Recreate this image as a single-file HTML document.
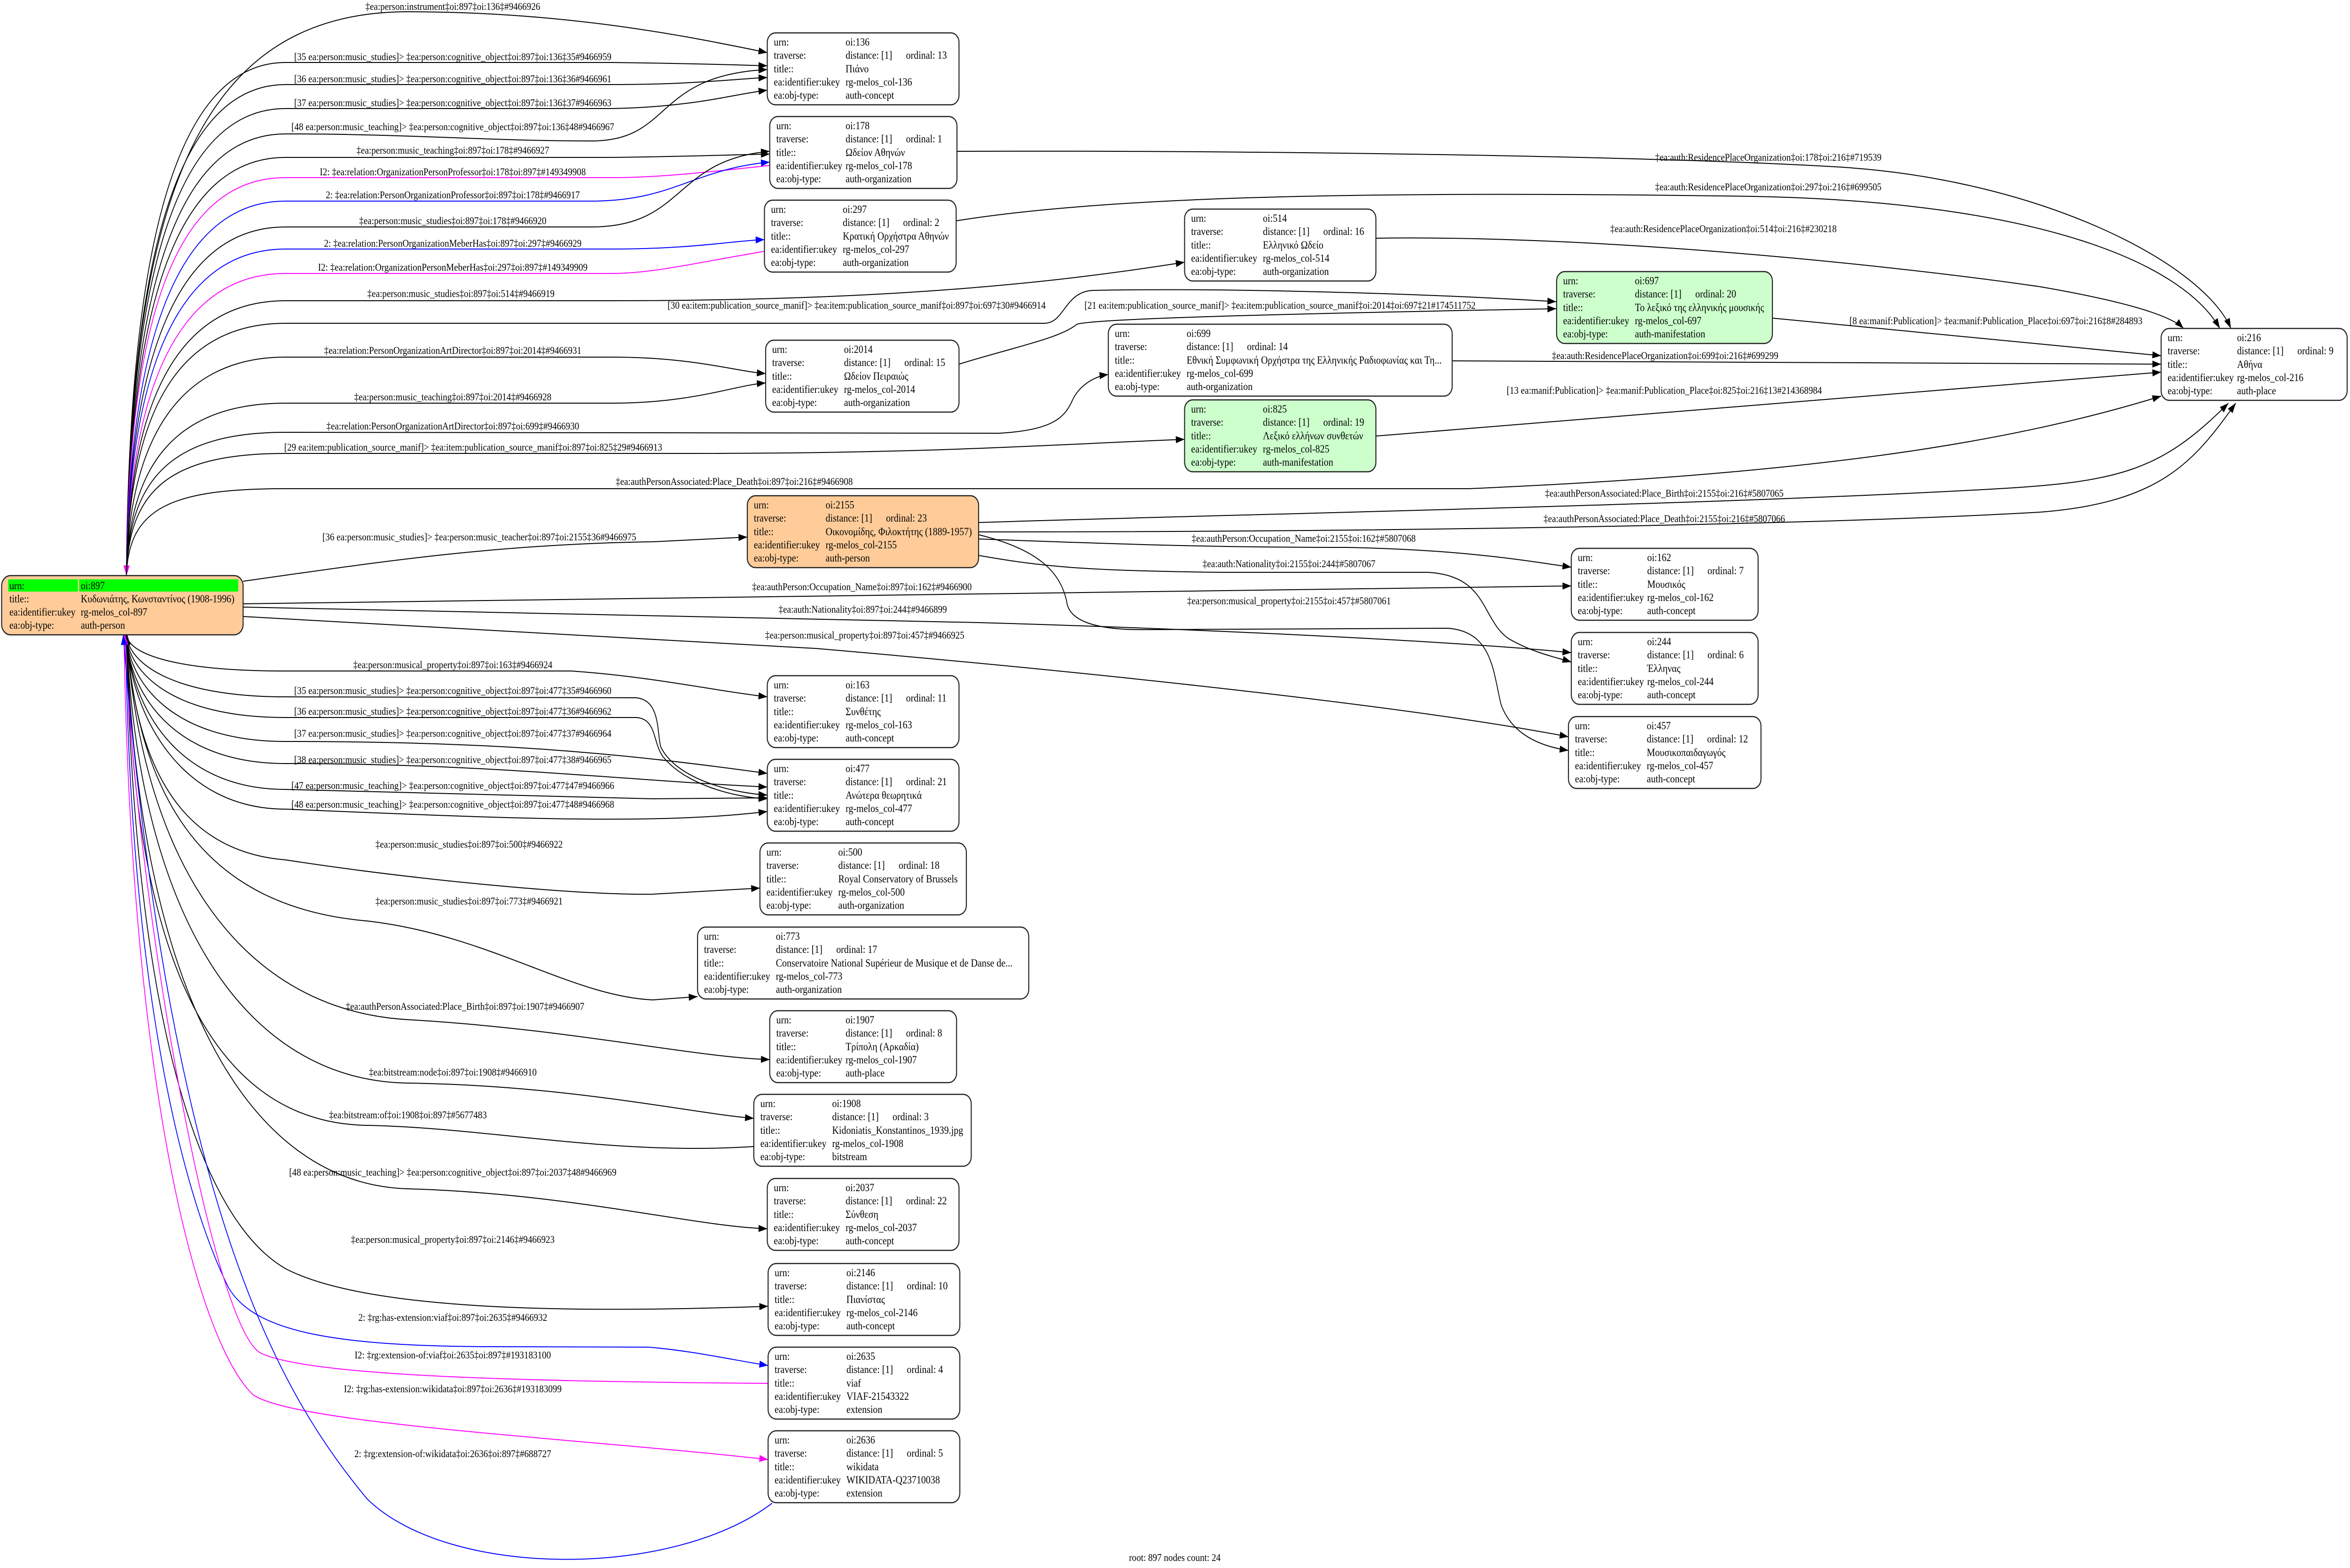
<!DOCTYPE html>
<html><head><meta charset="utf-8">
<style>
html,body{margin:0;padding:0;background:#fff;overflow:hidden;width:100vw;height:100vh;}
svg{display:block;width:100vw;height:100vh;}
text{font-family:"Liberation Serif","DejaVu Serif",serif;font-size:23px;fill:#000;}
.l{font-size:22px;text-anchor:middle;}
.e{fill:none;stroke:#000;stroke-width:2;}
.eb{fill:none;stroke:#0000ff;stroke-width:2;}
.em{fill:none;stroke:#ff00ff;stroke-width:2;}
.n{stroke:#222;stroke-width:2.5;}
</style></head><body>
<svg viewBox="0 0 5761 3337" preserveAspectRatio="none" xmlns="http://www.w3.org/2000/svg">
<defs>
<marker id="ak" viewBox="0 0 20 14" refX="20" refY="7" markerWidth="22" markerHeight="15" markerUnits="userSpaceOnUse" orient="auto"><path d="M0,0 L20,7 L0,14 z" fill="#000"/></marker>
<marker id="ab" viewBox="0 0 20 14" refX="20" refY="7" markerWidth="22" markerHeight="15" markerUnits="userSpaceOnUse" orient="auto"><path d="M0,0 L20,7 L0,14 z" fill="#00f"/></marker>
<marker id="am" viewBox="0 0 20 14" refX="20" refY="7" markerWidth="22" markerHeight="15" markerUnits="userSpaceOnUse" orient="auto"><path d="M0,0 L20,7 L0,14 z" fill="#f0f"/></marker>
</defs>
<rect width="5761" height="3337" fill="#fff"/>

<path class="e" marker-end="url(#ak)" d="M310,1225 C315,400 500,25 1000,25 C1400,25 1700,80 1881,112"/>
<text class="l" x="1110" y="21">‡ea:person:instrument‡oi:897‡oi:136‡#9466926</text>
<path class="e" marker-end="url(#ak)" d="M310,1225 C315,560 420,133 700,133 L1500,133 C1700,135 1800,138 1881,140"/>
<text class="l" x="1110" y="128">[35 ea:person:music_studies]&gt; ‡ea:person:cognitive_object‡oi:897‡oi:136‡35#9466959</text>
<path class="e" marker-end="url(#ak)" d="M310,1225 C315,590 420,180 700,180 L1500,180 C1700,180 1800,168 1881,165"/>
<text class="l" x="1110" y="175">[36 ea:person:music_studies]&gt; ‡ea:person:cognitive_object‡oi:897‡oi:136‡36#9466961</text>
<path class="e" marker-end="url(#ak)" d="M310,1225 C315,620 420,231 700,231 L1500,231 C1700,228 1800,200 1881,192"/>
<text class="l" x="1110" y="226">[37 ea:person:music_studies]&gt; ‡ea:person:cognitive_object‡oi:897‡oi:136‡37#9466963</text>
<path class="e" marker-end="url(#ak)" d="M310,1225 C315,650 420,285 700,285 C1000,285 1200,300 1450,300 C1650,300 1600,160 1881,148"/>
<text class="l" x="1110" y="277">[48 ea:person:music_teaching]&gt; ‡ea:person:cognitive_object‡oi:897‡oi:136‡48#9466967</text>
<path class="e" marker-end="url(#ak)" d="M310,1225 C315,680 420,335 700,335 L1500,335 C1700,333 1800,329 1887,328"/>
<text class="l" x="1110" y="327">‡ea:person:music_teaching‡oi:897‡oi:178‡#9466927</text>
<path class="em" marker-end="url(#am)" d="M1887,352 C1700,370 1600,378 1500,378 L700,378 C420,378 315,700 310,1225"/>
<text class="l" x="1110" y="373">I2: ‡ea:relation:OrganizationPersonProfessor‡oi:178‡oi:897‡#149349908</text>
<path class="eb" marker-end="url(#ab)" d="M310,1225 C315,760 420,428 700,428 L1450,428 C1650,428 1700,360 1887,345"/>
<text class="l" x="1110" y="422">2: ‡ea:relation:PersonOrganizationProfessor‡oi:897‡oi:178‡#9466917</text>
<path class="e" marker-end="url(#ak)" d="M310,1225 C315,790 420,483 700,483 L1450,483 C1680,483 1650,340 1887,322"/>
<text class="l" x="1110" y="477">‡ea:person:music_studies‡oi:897‡oi:178‡#9466920</text>
<path class="eb" marker-end="url(#ab)" d="M310,1225 C315,820 420,530 700,530 L1500,530 C1700,530 1800,512 1874,510"/>
<text class="l" x="1110" y="525">2: ‡ea:relation:PersonOrganizationMeberHas‡oi:897‡oi:297‡#9466929</text>
<path class="em" marker-end="url(#am)" d="M1874,535 C1700,560 1600,582 1500,582 L700,582 C420,582 315,860 310,1225"/>
<text class="l" x="1110" y="576">I2: ‡ea:relation:OrganizationPersonMeberHas‡oi:297‡oi:897‡#149349909</text>
<path class="e" marker-end="url(#ak)" d="M310,1225 C315,880 420,640 700,640 L1500,640 C2200,640 2600,600 2904,558"/>
<text class="l" x="1130" y="632">‡ea:person:music_studies‡oi:897‡oi:514‡#9466919</text>
<path class="e" marker-end="url(#ak)" d="M310,1225 C315,900 420,688 700,688 L2560,688 C2610,688 2610,620 2680,618 C3000,612 3500,625 3815,642"/>
<text class="l" x="2100" y="657">[30 ea:item:publication_source_manif]&gt; ‡ea:item:publication_source_manif‡oi:897‡oi:697‡30#9466914</text>
<path class="e" marker-end="url(#ak)" d="M2351,775 C2480,740 2600,720 2640,690 C2680,680 3000,670 3815,657"/>
<text class="l" x="3138" y="657">[21 ea:item:publication_source_manif]&gt; ‡ea:item:publication_source_manif‡oi:2014‡oi:697‡21#174511752</text>
<path class="e" marker-end="url(#ak)" d="M310,1225 C315,960 420,760 700,760 L1500,760 C1700,760 1800,790 1877,795"/>
<text class="l" x="1110" y="753">‡ea:relation:PersonOrganizationArtDirector‡oi:897‡oi:2014‡#9466931</text>
<path class="e" marker-end="url(#ak)" d="M310,1225 C315,1000 420,858 700,858 L1500,858 C1700,858 1800,820 1877,815"/>
<text class="l" x="1110" y="852">‡ea:person:music_teaching‡oi:897‡oi:2014‡#9466928</text>
<path class="e" marker-end="url(#ak)" d="M310,1225 C315,1020 420,920 700,920 L2450,922 C2580,915 2610,890 2630,850 C2650,815 2690,800 2717,797"/>
<text class="l" x="1110" y="914">‡ea:relation:PersonOrganizationArtDirector‡oi:897‡oi:699‡#9466930</text>
<path class="e" marker-end="url(#ak)" d="M310,1225 C315,1040 420,965 700,965 L1700,965 C2300,965 2600,945 2904,935"/>
<text class="l" x="1160" y="959">[29 ea:item:publication_source_manif]&gt; ‡ea:item:publication_source_manif‡oi:897‡oi:825‡29#9466913</text>
<path class="e" marker-end="url(#ak)" d="M310,1225 C315,1080 420,1040 700,1040 L3600,1040 C4400,1010 4900,950 5298,843"/>
<text class="l" x="1800" y="1032">‡ea:authPersonAssociated:Place_Death‡oi:897‡oi:216‡#9466908</text>

<path class="e" marker-end="url(#ak)" d="M596,1237 C900,1200 1200,1158 1600,1153 L1832,1143"/>
<text class="l" x="1175" y="1150">[36 ea:person:music_studies]&gt; ‡ea:person:music_teacher‡oi:897‡oi:2155‡36#9466975</text>
<path class="e" marker-end="url(#ak)" d="M596,1285 C1000,1275 1500,1270 2400,1264 C3000,1260 3500,1250 3852,1247"/>
<text class="l" x="2113" y="1256">‡ea:authPerson:Occupation_Name‡oi:897‡oi:162‡#9466900</text>
<path class="e" marker-end="url(#ak)" d="M596,1292 C1000,1300 1500,1306 2400,1325 C3000,1340 3600,1367 3852,1389"/>
<text class="l" x="2115" y="1304">‡ea:auth:Nationality‡oi:897‡oi:244‡#9466899</text>
<path class="e" marker-end="url(#ak)" d="M596,1312 C1000,1330 1500,1360 2000,1380 C2800,1440 3500,1510 3845,1568"/>
<text class="l" x="2120" y="1359">‡ea:person:musical_property‡oi:897‡oi:457‡#9466925</text>

<path class="e" marker-end="url(#ak)" d="M2399,1112 C3000,1095 4200,1075 4900,1040 C5200,1025 5300,1000 5463,858"/>
<text class="l" x="4080" y="1057">‡ea:authPersonAssociated:Place_Birth‡oi:2155‡oi:216‡#5807065</text>
<path class="e" marker-end="url(#ak)" d="M2399,1132 C3500,1132 4500,1115 5000,1090 C5300,1070 5380,980 5481,858"/>
<text class="l" x="4080" y="1111">‡ea:authPersonAssociated:Place_Death‡oi:2155‡oi:216‡#5807066</text>
<path class="e" marker-end="url(#ak)" d="M2399,1147 C2800,1160 3000,1165 3300,1165 C3600,1170 3750,1195 3852,1207"/>
<text class="l" x="3196" y="1153">‡ea:authPerson:Occupation_Name‡oi:2155‡oi:162‡#5807068</text>
<path class="e" marker-end="url(#ak)" d="M2399,1182 C2550,1205 2650,1215 3000,1218 L3500,1218 C3650,1225 3630,1320 3700,1360 C3760,1390 3820,1400 3852,1409"/>
<text class="l" x="3160" y="1207">‡ea:auth:Nationality‡oi:2155‡oi:244‡#5807067</text>
<path class="e" marker-end="url(#ak)" d="M2399,1138 C2550,1170 2600,1220 2615,1280 C2620,1320 2680,1340 2800,1340 L3550,1337 C3660,1345 3660,1430 3680,1500 C3710,1570 3790,1590 3845,1597"/>
<text class="l" x="3160" y="1286">‡ea:person:musical_property‡oi:2155‡oi:457‡#5807061</text>

<path class="e" marker-end="url(#ak)" d="M2346,322 C3000,320 4000,330 4500,355 C5000,380 5400,560 5469,699"/>
<text class="l" x="4335" y="342">‡ea:auth:ResidencePlaceOrganization‡oi:178‡oi:216‡#719539</text>
<path class="e" marker-end="url(#ak)" d="M2344,470 C2700,420 3300,405 4300,418 C5000,430 5350,560 5442,699"/>
<text class="l" x="4335" y="405">‡ea:auth:ResidencePlaceOrganization‡oi:297‡oi:216‡#699505</text>
<path class="e" marker-end="url(#ak)" d="M3373,507 C3900,500 4600,560 5000,610 C5200,640 5320,670 5353,699"/>
<text class="l" x="4225" y="494">‡ea:auth:ResidencePlaceOrganization‡oi:514‡oi:216‡#230218</text>
<path class="e" marker-end="url(#ak)" d="M4345,677 L5298,757"/>
<text class="l" x="4893" y="690">[8 ea:manif:Publication]&gt; ‡ea:manif:Publication_Place‡oi:697‡oi:216‡8#284893</text>
<path class="e" marker-end="url(#ak)" d="M3560,768 L5298,775"/>
<text class="l" x="4082" y="764">‡ea:auth:ResidencePlaceOrganization‡oi:699‡oi:216‡#699299</text>
<path class="e" marker-end="url(#ak)" d="M3373,928 L5298,792"/>
<text class="l" x="4080" y="838">[13 ea:manif:Publication]&gt; ‡ea:manif:Publication_Place‡oi:825‡oi:216‡13#214368984</text>

<path class="e" marker-end="url(#ak)" d="M310,1351 C315,1390 420,1428 700,1428 L1400,1428 C1600,1440 1750,1470 1881,1483"/>
<text class="l" x="1110" y="1422">‡ea:person:musical_property‡oi:897‡oi:163‡#9466924</text>
<path class="e" marker-end="url(#ak)" d="M310,1351 C315,1410 420,1483 700,1483 L1560,1485 C1620,1490 1610,1560 1620,1590 C1660,1660 1800,1688 1881,1692"/>
<text class="l" x="1110" y="1477">[35 ea:person:music_studies]&gt; ‡ea:person:cognitive_object‡oi:897‡oi:477‡35#9466960</text>
<path class="e" marker-end="url(#ak)" d="M310,1351 C315,1430 420,1527 700,1527 L1560,1527 C1610,1530 1600,1580 1625,1610 C1680,1670 1800,1697 1881,1700"/>
<text class="l" x="1110" y="1521">[36 ea:person:music_studies]&gt; ‡ea:person:cognitive_object‡oi:897‡oi:477‡36#9466962</text>
<path class="e" marker-end="url(#ak)" d="M310,1351 C315,1450 420,1578 700,1578 C1200,1578 1500,1600 1881,1646"/>
<text class="l" x="1110" y="1568">[37 ea:person:music_studies]&gt; ‡ea:person:cognitive_object‡oi:897‡oi:477‡37#9466964</text>
<path class="e" marker-end="url(#ak)" d="M310,1351 C315,1470 420,1625 700,1625 C1200,1625 1500,1659 1881,1675"/>
<text class="l" x="1110" y="1624">[38 ea:person:music_studies]&gt; ‡ea:person:cognitive_object‡oi:897‡oi:477‡38#9466965</text>
<path class="e" marker-end="url(#ak)" d="M310,1351 C320,1500 430,1680 700,1680 L1600,1700 L1881,1698"/>
<text class="l" x="1110" y="1679">[47 ea:person:music_teaching]&gt; ‡ea:person:cognitive_object‡oi:897‡oi:477‡47#9466966</text>
<path class="e" marker-end="url(#ak)" d="M310,1351 C320,1520 440,1722 700,1722 C1200,1740 1600,1757 1881,1727"/>
<text class="l" x="1110" y="1719">[48 ea:person:music_teaching]&gt; ‡ea:person:cognitive_object‡oi:897‡oi:477‡48#9466968</text>
<path class="e" marker-end="url(#ak)" d="M310,1351 C330,1600 420,1810 700,1830 C1000,1870 1400,1905 1600,1903 L1863,1890"/>
<text class="l" x="1150" y="1804">‡ea:person:music_studies‡oi:897‡oi:500‡#9466922</text>
<path class="e" marker-end="url(#ak)" d="M310,1351 C340,1700 500,1930 900,1960 C1200,1990 1400,2120 1600,2128 L1710,2121"/>
<text class="l" x="1150" y="1925">‡ea:person:music_studies‡oi:897‡oi:773‡#9466921</text>
<path class="e" marker-end="url(#ak)" d="M310,1351 C350,1850 600,2150 1000,2170 C1400,2190 1700,2250 1887,2255"/>
<text class="l" x="1140" y="2149">‡ea:authPersonAssociated:Place_Birth‡oi:897‡oi:1907‡#9466907</text>
<path class="e" marker-end="url(#ak)" d="M310,1351 C340,1950 600,2300 1000,2305 C1400,2310 1700,2370 1848,2380"/>
<text class="l" x="1110" y="2289">‡ea:bitstream:node‡oi:897‡oi:1908‡#9466910</text>
<path class="e" marker-end="url(#ak)" d="M1848,2440 C1500,2460 1200,2400 900,2395 C500,2390 320,2000 312,1351"/>
<text class="l" x="1000" y="2380">‡ea:bitstream:of‡oi:1908‡oi:897‡#5677483</text>
<path class="e" marker-end="url(#ak)" d="M310,1351 C340,2100 600,2520 1000,2530 C1400,2540 1700,2610 1881,2615"/>
<text class="l" x="1110" y="2502">[48 ea:person:music_teaching]&gt; ‡ea:person:cognitive_object‡oi:897‡oi:2037‡48#9466969</text>
<path class="e" marker-end="url(#ak)" d="M310,1351 C330,2200 500,2600 700,2700 C900,2790 1400,2795 1883,2780"/>
<text class="l" x="1110" y="2645">‡ea:person:musical_property‡oi:897‡oi:2146‡#9466923</text>
<path class="eb" marker-end="url(#ab)" d="M308,1351 C320,2200 480,2600 560,2740 C620,2830 800,2865 1200,2866 L1590,2867 C1700,2875 1800,2895 1883,2906"/>
<text class="l" x="1110" y="2811">2: ‡rg:has-extension:viaf‡oi:897‡oi:2635‡#9466932</text>
<path class="em" marker-end="url(#am)" d="M1883,2944 C1200,2940 750,2925 640,2880 C520,2830 330,1900 306,1351"/>
<text class="l" x="1110" y="2891">I2: ‡rg:extension-of:viaf‡oi:2635‡oi:897‡#193183100</text>
<path class="em" marker-end="url(#am)" d="M304,1351 C320,2300 480,2850 620,2968 C720,3030 1400,3060 1883,3106"/>
<text class="l" x="1110" y="2963">I2: ‡rg:has-extension:wikidata‡oi:897‡oi:2636‡#193183099</text>
<path class="eb" marker-end="url(#ab)" d="M1893,3199 C1650,3360 1100,3360 900,3190 C700,2980 420,2600 302,1351"/>
<text class="l" x="1110" y="3101">2: ‡rg:extension-of:wikidata‡oi:2636‡oi:897‡#688727</text>

<g transform="translate(4,1225)"><rect class="n" x="0" y="0" width="592" height="126" rx="22" fill="#ffcc99"/>
<rect x="16" y="8" width="171" height="26" fill="#00ff00"/><rect x="190" y="8" width="390" height="26" fill="#00ff00"/>
<text x="19" y="29">urn:</text><text x="194" y="29">oi:897</text>
<text x="19" y="57">title::</text><text x="194" y="57">Κυδωνιάτης, Κωνσταντίνος (1908-1996)</text>
<text x="19" y="85">ea:identifier:ukey</text><text x="194" y="85">rg-melos_col-897</text>
<text x="19" y="113">ea:obj-type:</text><text x="194" y="113">auth-person</text></g>

<g transform="translate(1881,70)"><rect class="n" width="470" height="153" rx="20" fill="#fff"/><text x="16" y="27">urn:</text><text x="192" y="27">oi:136</text><text x="16" y="55">traverse:</text><text x="192" y="55">distance: [1]</text><text x="340" y="55">ordinal: 13</text><text x="16" y="84">title::</text><text x="192" y="84">Πιάνο</text><text x="16" y="112">ea:identifier:ukey</text><text x="192" y="112">rg-melos_col-136</text><text x="16" y="140">ea:obj-type:</text><text x="192" y="140">auth-concept</text></g>

<g transform="translate(1887,248)"><rect class="n" width="459" height="153" rx="20" fill="#fff"/><text x="16" y="27">urn:</text><text x="186" y="27">oi:178</text><text x="16" y="55">traverse:</text><text x="186" y="55">distance: [1]</text><text x="334" y="55">ordinal: 1</text><text x="16" y="84">title::</text><text x="186" y="84">Ωδείον Αθηνών</text><text x="16" y="112">ea:identifier:ukey</text><text x="186" y="112">rg-melos_col-178</text><text x="16" y="140">ea:obj-type:</text><text x="186" y="140">auth-organization</text></g>

<g transform="translate(1874,426)"><rect class="n" width="470" height="153" rx="20" fill="#fff"/><text x="16" y="27">urn:</text><text x="192" y="27">oi:297</text><text x="16" y="55">traverse:</text><text x="192" y="55">distance: [1]</text><text x="340" y="55">ordinal: 2</text><text x="16" y="84">title::</text><text x="192" y="84">Κρατική Ορχήστρα Αθηνών</text><text x="16" y="112">ea:identifier:ukey</text><text x="192" y="112">rg-melos_col-297</text><text x="16" y="140">ea:obj-type:</text><text x="192" y="140">auth-organization</text></g>

<g transform="translate(2904,445)"><rect class="n" width="469" height="153" rx="20" fill="#fff"/><text x="16" y="27">urn:</text><text x="192" y="27">oi:514</text><text x="16" y="55">traverse:</text><text x="192" y="55">distance: [1]</text><text x="340" y="55">ordinal: 16</text><text x="16" y="84">title::</text><text x="192" y="84">Ελληνικό Ωδείο</text><text x="16" y="112">ea:identifier:ukey</text><text x="192" y="112">rg-melos_col-514</text><text x="16" y="140">ea:obj-type:</text><text x="192" y="140">auth-organization</text></g>

<g transform="translate(3816,578)"><rect class="n" width="529" height="153" rx="20" fill="#ccffcc"/><text x="16" y="27">urn:</text><text x="192" y="27">oi:697</text><text x="16" y="55">traverse:</text><text x="192" y="55">distance: [1]</text><text x="340" y="55">ordinal: 20</text><text x="16" y="84">title::</text><text x="192" y="84">Το λεξικό της ελληνικής μουσικής</text><text x="16" y="112">ea:identifier:ukey</text><text x="192" y="112">rg-melos_col-697</text><text x="16" y="140">ea:obj-type:</text><text x="192" y="140">auth-manifestation</text></g>

<g transform="translate(1877,724)"><rect class="n" width="474" height="153" rx="20" fill="#fff"/><text x="16" y="27">urn:</text><text x="192" y="27">oi:2014</text><text x="16" y="55">traverse:</text><text x="192" y="55">distance: [1]</text><text x="340" y="55">ordinal: 15</text><text x="16" y="84">title::</text><text x="192" y="84">Ωδείον Πειραιώς</text><text x="16" y="112">ea:identifier:ukey</text><text x="192" y="112">rg-melos_col-2014</text><text x="16" y="140">ea:obj-type:</text><text x="192" y="140">auth-organization</text></g>

<g transform="translate(2717,690)"><rect class="n" width="843" height="153" rx="20" fill="#fff"/><text x="16" y="27">urn:</text><text x="192" y="27">oi:699</text><text x="16" y="55">traverse:</text><text x="192" y="55">distance: [1]</text><text x="340" y="55">ordinal: 14</text><text x="16" y="84">title::</text><text x="192" y="84">Εθνική Συμφωνική Ορχήστρα της Ελληνικής Ραδιοφωνίας και Τη...</text><text x="16" y="112">ea:identifier:ukey</text><text x="192" y="112">rg-melos_col-699</text><text x="16" y="140">ea:obj-type:</text><text x="192" y="140">auth-organization</text></g>

<g transform="translate(2904,851)"><rect class="n" width="469" height="153" rx="20" fill="#ccffcc"/><text x="16" y="27">urn:</text><text x="192" y="27">oi:825</text><text x="16" y="55">traverse:</text><text x="192" y="55">distance: [1]</text><text x="340" y="55">ordinal: 19</text><text x="16" y="84">title::</text><text x="192" y="84">Λεξικό ελλήνων συνθετών</text><text x="16" y="112">ea:identifier:ukey</text><text x="192" y="112">rg-melos_col-825</text><text x="16" y="140">ea:obj-type:</text><text x="192" y="140">auth-manifestation</text></g>

<g transform="translate(5298,699)"><rect class="n" width="456" height="153" rx="20" fill="#fff"/><text x="16" y="27">urn:</text><text x="186" y="27">oi:216</text><text x="16" y="55">traverse:</text><text x="186" y="55">distance: [1]</text><text x="334" y="55">ordinal: 9</text><text x="16" y="84">title::</text><text x="186" y="84">Αθήνα</text><text x="16" y="112">ea:identifier:ukey</text><text x="186" y="112">rg-melos_col-216</text><text x="16" y="140">ea:obj-type:</text><text x="186" y="140">auth-place</text></g>

<g transform="translate(1832,1055)"><rect class="n" width="567" height="153" rx="20" fill="#ffcc99"/><text x="16" y="27">urn:</text><text x="192" y="27">oi:2155</text><text x="16" y="55">traverse:</text><text x="192" y="55">distance: [1]</text><text x="340" y="55">ordinal: 23</text><text x="16" y="84">title::</text><text x="192" y="84">Οικονομίδης, Φιλοκτήτης (1889-1957)</text><text x="16" y="112">ea:identifier:ukey</text><text x="192" y="112">rg-melos_col-2155</text><text x="16" y="140">ea:obj-type:</text><text x="192" y="140">auth-person</text></g>

<g transform="translate(3852,1167)"><rect class="n" width="458" height="153" rx="20" fill="#fff"/><text x="16" y="27">urn:</text><text x="186" y="27">oi:162</text><text x="16" y="55">traverse:</text><text x="186" y="55">distance: [1]</text><text x="334" y="55">ordinal: 7</text><text x="16" y="84">title::</text><text x="186" y="84">Μουσικός</text><text x="16" y="112">ea:identifier:ukey</text><text x="186" y="112">rg-melos_col-162</text><text x="16" y="140">ea:obj-type:</text><text x="186" y="140">auth-concept</text></g>

<g transform="translate(3852,1346)"><rect class="n" width="458" height="153" rx="20" fill="#fff"/><text x="16" y="27">urn:</text><text x="186" y="27">oi:244</text><text x="16" y="55">traverse:</text><text x="186" y="55">distance: [1]</text><text x="334" y="55">ordinal: 6</text><text x="16" y="84">title::</text><text x="186" y="84">Έλληνας</text><text x="16" y="112">ea:identifier:ukey</text><text x="186" y="112">rg-melos_col-244</text><text x="16" y="140">ea:obj-type:</text><text x="186" y="140">auth-concept</text></g>

<g transform="translate(3845,1525)"><rect class="n" width="472" height="153" rx="20" fill="#fff"/><text x="16" y="27">urn:</text><text x="192" y="27">oi:457</text><text x="16" y="55">traverse:</text><text x="192" y="55">distance: [1]</text><text x="340" y="55">ordinal: 12</text><text x="16" y="84">title::</text><text x="192" y="84">Μουσικοπαιδαγωγός</text><text x="16" y="112">ea:identifier:ukey</text><text x="192" y="112">rg-melos_col-457</text><text x="16" y="140">ea:obj-type:</text><text x="192" y="140">auth-concept</text></g>

<g transform="translate(1881,1438)"><rect class="n" width="470" height="153" rx="20" fill="#fff"/><text x="16" y="27">urn:</text><text x="192" y="27">oi:163</text><text x="16" y="55">traverse:</text><text x="192" y="55">distance: [1]</text><text x="340" y="55">ordinal: 11</text><text x="16" y="84">title::</text><text x="192" y="84">Συνθέτης</text><text x="16" y="112">ea:identifier:ukey</text><text x="192" y="112">rg-melos_col-163</text><text x="16" y="140">ea:obj-type:</text><text x="192" y="140">auth-concept</text></g>

<g transform="translate(1881,1616)"><rect class="n" width="470" height="153" rx="20" fill="#fff"/><text x="16" y="27">urn:</text><text x="192" y="27">oi:477</text><text x="16" y="55">traverse:</text><text x="192" y="55">distance: [1]</text><text x="340" y="55">ordinal: 21</text><text x="16" y="84">title::</text><text x="192" y="84">Ανώτερα θεωρητικά</text><text x="16" y="112">ea:identifier:ukey</text><text x="192" y="112">rg-melos_col-477</text><text x="16" y="140">ea:obj-type:</text><text x="192" y="140">auth-concept</text></g>

<g transform="translate(1863,1794)"><rect class="n" width="506" height="153" rx="20" fill="#fff"/><text x="16" y="27">urn:</text><text x="192" y="27">oi:500</text><text x="16" y="55">traverse:</text><text x="192" y="55">distance: [1]</text><text x="340" y="55">ordinal: 18</text><text x="16" y="84">title::</text><text x="192" y="84">Royal Conservatory of Brussels</text><text x="16" y="112">ea:identifier:ukey</text><text x="192" y="112">rg-melos_col-500</text><text x="16" y="140">ea:obj-type:</text><text x="192" y="140">auth-organization</text></g>

<g transform="translate(1710,1973)"><rect class="n" width="812" height="153" rx="20" fill="#fff"/><text x="16" y="27">urn:</text><text x="192" y="27">oi:773</text><text x="16" y="55">traverse:</text><text x="192" y="55">distance: [1]</text><text x="340" y="55">ordinal: 17</text><text x="16" y="84">title::</text><text x="192" y="84">Conservatoire National Supérieur de Musique et de Danse de...</text><text x="16" y="112">ea:identifier:ukey</text><text x="192" y="112">rg-melos_col-773</text><text x="16" y="140">ea:obj-type:</text><text x="192" y="140">auth-organization</text></g>

<g transform="translate(1887,2151)"><rect class="n" width="458" height="153" rx="20" fill="#fff"/><text x="16" y="27">urn:</text><text x="186" y="27">oi:1907</text><text x="16" y="55">traverse:</text><text x="186" y="55">distance: [1]</text><text x="334" y="55">ordinal: 8</text><text x="16" y="84">title::</text><text x="186" y="84">Τρίπολη (Αρκαδία)</text><text x="16" y="112">ea:identifier:ukey</text><text x="186" y="112">rg-melos_col-1907</text><text x="16" y="140">ea:obj-type:</text><text x="186" y="140">auth-place</text></g>

<g transform="translate(1848,2329)"><rect class="n" width="533" height="153" rx="20" fill="#fff"/><text x="16" y="27">urn:</text><text x="192" y="27">oi:1908</text><text x="16" y="55">traverse:</text><text x="192" y="55">distance: [1]</text><text x="340" y="55">ordinal: 3</text><text x="16" y="84">title::</text><text x="192" y="84">Kidoniatis_Konstantinos_1939.jpg</text><text x="16" y="112">ea:identifier:ukey</text><text x="192" y="112">rg-melos_col-1908</text><text x="16" y="140">ea:obj-type:</text><text x="192" y="140">bitstream</text></g>

<g transform="translate(1881,2508)"><rect class="n" width="470" height="153" rx="20" fill="#fff"/><text x="16" y="27">urn:</text><text x="192" y="27">oi:2037</text><text x="16" y="55">traverse:</text><text x="192" y="55">distance: [1]</text><text x="340" y="55">ordinal: 22</text><text x="16" y="84">title::</text><text x="192" y="84">Σύνθεση</text><text x="16" y="112">ea:identifier:ukey</text><text x="192" y="112">rg-melos_col-2037</text><text x="16" y="140">ea:obj-type:</text><text x="192" y="140">auth-concept</text></g>

<g transform="translate(1883,2689)"><rect class="n" width="470" height="153" rx="20" fill="#fff"/><text x="16" y="27">urn:</text><text x="192" y="27">oi:2146</text><text x="16" y="55">traverse:</text><text x="192" y="55">distance: [1]</text><text x="340" y="55">ordinal: 10</text><text x="16" y="84">title::</text><text x="192" y="84">Πιανίστας</text><text x="16" y="112">ea:identifier:ukey</text><text x="192" y="112">rg-melos_col-2146</text><text x="16" y="140">ea:obj-type:</text><text x="192" y="140">auth-concept</text></g>

<g transform="translate(1883,2867)"><rect class="n" width="470" height="153" rx="20" fill="#fff"/><text x="16" y="27">urn:</text><text x="192" y="27">oi:2635</text><text x="16" y="55">traverse:</text><text x="192" y="55">distance: [1]</text><text x="340" y="55">ordinal: 4</text><text x="16" y="84">title::</text><text x="192" y="84">viaf</text><text x="16" y="112">ea:identifier:ukey</text><text x="192" y="112">VIAF-21543322</text><text x="16" y="140">ea:obj-type:</text><text x="192" y="140">extension</text></g>

<g transform="translate(1883,3045)"><rect class="n" width="470" height="153" rx="20" fill="#fff"/><text x="16" y="27">urn:</text><text x="192" y="27">oi:2636</text><text x="16" y="55">traverse:</text><text x="192" y="55">distance: [1]</text><text x="340" y="55">ordinal: 5</text><text x="16" y="84">title::</text><text x="192" y="84">wikidata</text><text x="16" y="112">ea:identifier:ukey</text><text x="192" y="112">WIKIDATA-Q23710038</text><text x="16" y="140">ea:obj-type:</text><text x="192" y="140">extension</text></g>

<text class="l" x="2880" y="3322">root: 897 nodes count: 24</text>
</svg>
</body></html>
